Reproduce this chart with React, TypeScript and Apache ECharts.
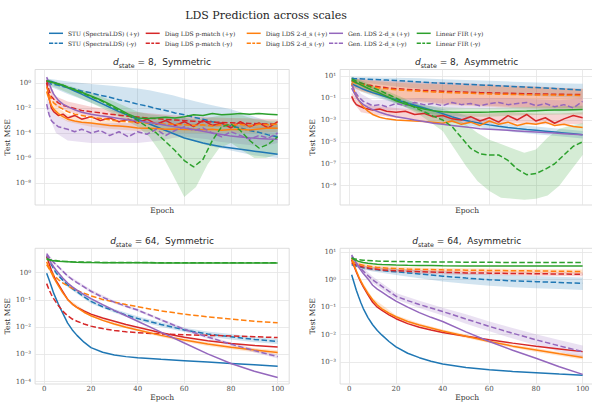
import React, { useEffect, useRef } from "react";
import * as echarts from "echarts";

// ---------- epochs ----------
const E_TOP = [1, 2, 3, 4, 6, 8, 10, 13, 16, 20, 24, 28, 32, 36, 40, 44, 48, 52, 56, 60, 64, 68, 72, 76, 80, 84, 88, 92, 96, 100];
const E_BOT = [1, 2, 3, 4, 5, 6, 8, 10, 12, 14, 17, 20, 25, 30, 35, 40, 50, 60, 70, 80, 90, 100];
const E_BAND = [1, 5, 10, 20, 30, 40, 45, 50, 55, 60, 65, 70, 75, 80, 85, 90, 95, 100];
const E_BAND_S = [1, 5, 10, 20, 30, 40, 50, 60, 70, 80, 90, 100];
const X_TICKS = [0, 20, 40, 60, 80, 100];

// ---------- values: log10(Test MSE) ----------
// d_state = 8, Symmetric
const tlStuP = [0.2, 0.15, 0.1, 0.05, -0.1, -0.25, -0.4, -0.65, -0.9, -1.25, -1.6, -1.95, -2.3, -2.6, -2.9, -3.2, -3.5, -3.8, -4.1, -4.4, -4.6, -4.8, -4.95, -5.1, -5.2, -5.3, -5.4, -5.5, -5.6, -5.7];
const tlStuN = [0.0, -0.05, -0.1, -0.13, -0.2, -0.3, -0.38, -0.5, -0.65, -0.8, -1.0, -1.15, -1.35, -1.5, -1.7, -1.85, -2.05, -2.2, -2.4, -2.55, -2.75, -2.9, -3.1, -3.25, -3.45, -3.6, -3.8, -3.95, -4.15, -4.3];
const tlDiagP = [0.0, -1.2, -2.0, -2.3, -2.6, -2.5, -2.8, -2.6, -2.9, -2.7, -3.0, -2.8, -3.1, -2.9, -3.2, -2.9, -3.3, -3.0, -3.4, -3.1, -3.5, -3.0, -3.4, -3.2, -3.6, -3.1, -3.5, -3.2, -3.6, -3.1];
const tlDiagN = [0.2, -0.6, -1.1, -1.3, -1.6, -1.8, -1.9, -2.05, -2.2, -2.3, -2.4, -2.5, -2.58, -2.66, -2.73, -2.8, -2.86, -2.92, -2.97, -3.02, -3.06, -3.1, -3.13, -3.16, -3.19, -3.22, -3.24, -3.26, -3.28, -3.3];
const tlD2P = [-0.7, -1.3, -1.8, -2.1, -2.45, -2.7, -2.9, -3.05, -3.15, -3.2, -3.3, -3.4, -3.45, -3.5, -3.6, -3.62, -3.65, -3.7, -3.68, -3.73, -3.7, -3.75, -3.7, -3.78, -3.72, -3.7, -3.76, -3.68, -3.6, -3.62];
const tlD2N = [-0.3, -0.9, -1.3, -1.6, -1.9, -2.1, -2.3, -2.5, -2.6, -2.75, -2.85, -2.95, -3.05, -3.1, -3.15, -3.2, -3.25, -3.3, -3.3, -3.35, -3.4, -3.35, -3.45, -3.35, -3.4, -3.3, -3.45, -3.3, -3.35, -3.3];
const tlGenP = [0.45, 0.0, -0.5, -0.9, -1.4, -1.7, -1.9, -2.15, -2.35, -2.5, -2.62, -2.73, -2.84, -2.95, -3.05, -3.15, -3.25, -3.38, -3.5, -3.6, -3.73, -3.87, -4.0, -4.12, -4.25, -4.32, -4.38, -4.43, -4.47, -4.5];
const tlGenN = [-1.7, -2.5, -3.0, -3.2, -3.5, -3.6, -3.7, -3.9, -3.7, -4.0, -3.8, -4.2, -3.9, -4.3, -3.9, -4.1, -3.7, -4.2, -3.8, -3.5, -3.8, -3.6, -4.0, -4.3, -3.9, -4.2, -4.5, -4.2, -4.4, -4.0];
const tlFirP = [0.15, 0.1, 0.05, 0.0, -0.1, -0.2, -0.35, -0.55, -0.75, -1.05, -1.35, -1.7, -2.1, -2.5, -2.8, -2.85, -2.8, -2.75, -2.8, -2.7, -2.55, -2.6, -2.45, -2.55, -2.5, -2.45, -2.5, -2.45, -2.5, -2.55];
const tlFirN = [0.15, 0.1, 0.05, 0.0, -0.1, -0.2, -0.35, -0.55, -0.8, -1.1, -1.4, -1.8, -2.2, -2.6, -3.0, -3.5, -4.0, -4.7, -5.4, -6.2, -6.7, -6.1, -4.6, -3.5, -3.3, -3.8, -4.6, -5.2, -4.9, -4.3];
const tlStuBandLo = [-0.2, -0.5, -0.9, -1.6, -2.3, -3.0, -3.3, -3.7, -4.0, -4.4, -4.7, -5.0, -5.2, -5.4, -5.6, -5.8, -5.9, -6.0];
const tlStuBandHi = [0.35, 0.25, 0.1, -0.1, -0.25, -0.45, -0.6, -0.8, -1.0, -1.25, -1.5, -1.7, -1.9, -2.1, -2.4, -2.7, -3.0, -3.3];
const tlFirBandLo = [-0.1, -0.4, -0.8, -1.6, -2.5, -3.5, -4.3, -5.6, -7.3, -9.1, -8.3, -6.5, -5.2, -4.8, -5.4, -6.0, -6.0, -5.7];
const tlFirBandHi = [0.35, 0.1, -0.2, -0.8, -1.5, -2.3, -2.5, -2.6, -2.7, -2.8, -2.9, -2.8, -2.6, -2.5, -2.6, -2.9, -3.0, -3.0];
const tlGenBandLo = [-2.2, -4.0, -4.6, -4.8, -4.8, -4.8, -4.7, -4.6, -4.4, -4.3, -4.4, -4.5, -4.7, -4.8, -4.9, -5.0, -5.0, -4.8];
const tlGenBandHi = [-1.2, -2.6, -3.0, -3.2, -3.2, -3.2, -3.1, -3.0, -2.9, -2.8, -3.0, -3.1, -3.3, -3.3, -3.4, -3.5, -3.5, -3.4];
const tlDiagBandLo = [-0.1, -1.9, -2.3, -2.7, -3.0, -3.1, -3.3, -3.4, -3.5, -3.55, -3.6, -3.65];
const tlDiagBandHi = [0.4, -1.1, -1.5, -1.9, -2.2, -2.35, -2.5, -2.65, -2.75, -2.8, -2.85, -2.9];
const tlD2BandLo = [-1.0, -2.6, -3.1, -3.5, -3.7, -3.85, -3.95, -4.0, -4.0, -4.0, -4.0, -3.9];
const tlD2BandHi = [-0.3, -1.9, -2.5, -2.9, -3.05, -3.25, -3.3, -3.3, -3.3, -3.3, -3.3, -3.2];

// d_state = 8, Asymmetric
const trStuP = [0.3, 0.2, 0.1, 0.0, -0.2, -0.35, -0.5, -0.7, -0.9, -1.15, -1.4, -1.65, -1.9, -2.15, -2.42, -2.7, -2.95, -3.15, -3.3, -3.45, -3.57, -3.68, -3.78, -3.87, -3.95, -4.03, -4.11, -4.19, -4.27, -4.35];
const trStuN = [0.8, 0.78, 0.77, 0.76, 0.74, 0.72, 0.7, 0.67, 0.64, 0.6, 0.55, 0.5, 0.45, 0.4, 0.36, 0.32, 0.28, 0.24, 0.2, 0.16, 0.12, 0.08, 0.04, 0.0, -0.04, -0.08, -0.13, -0.18, -0.23, -0.28];
const trDiagP = [-0.85, -1.3, -1.6, -1.7, -1.9, -2.0, -2.1, -2.0, -2.2, -2.3, -2.2, -2.5, -2.4, -2.7, -2.6, -2.9, -3.0, -2.7, -3.1, -2.8, -3.2, -2.6, -3.0, -2.5, -3.1, -2.8, -3.3, -2.9, -2.6, -2.8];
const trDiagN = [0.55, 0.5, 0.45, 0.4, 0.3, 0.2, 0.12, 0.02, -0.06, -0.14, -0.2, -0.25, -0.3, -0.34, -0.38, -0.41, -0.44, -0.47, -0.5, -0.52, -0.54, -0.56, -0.58, -0.6, -0.62, -0.63, -0.65, -0.66, -0.67, -0.68];
const trD2P = [0.35, -0.3, -0.8, -1.2, -1.8, -2.2, -2.5, -2.75, -2.9, -3.0, -3.05, -3.1, -3.15, -3.2, -3.3, -3.1, -3.4, -3.2, -3.5, -3.1, -3.4, -3.2, -3.5, -3.3, -3.4, -3.2, -3.5, -3.4, -3.6, -3.7];
const trD2N = [0.5, 0.42, 0.36, 0.3, 0.2, 0.1, 0.02, -0.08, -0.16, -0.24, -0.3, -0.35, -0.4, -0.44, -0.48, -0.51, -0.54, -0.57, -0.6, -0.62, -0.64, -0.66, -0.68, -0.7, -0.71, -0.72, -0.73, -0.74, -0.75, -0.76];
const trGenP = [-0.1, -0.5, -0.9, -1.2, -1.6, -1.85, -2.05, -2.3, -2.5, -2.7, -2.85, -3.0, -3.15, -3.3, -3.4, -3.5, -3.6, -3.7, -3.8, -3.85, -3.9, -3.95, -4.0, -4.05, -4.1, -4.15, -4.2, -4.25, -4.3, -4.35];
const trGenN = [0.2, -0.2, -0.6, -0.9, -1.3, -1.5, -1.7, -1.6, -1.8, -1.5, -1.7, -1.4, -1.6, -1.5, -1.7, -1.4, -1.6, -1.5, -1.7, -1.5, -1.4, -1.6, -1.5, -1.4, -1.7, -1.5, -1.8, -1.6, -1.9, -1.3];
const trFirP = [0.63, 0.5, 0.4, 0.3, 0.1, -0.1, -0.3, -0.55, -0.85, -1.25, -1.55, -1.8, -2.0, -2.15, -2.25, -2.3, -2.3, -2.3, -2.3, -2.28, -2.25, -2.22, -2.2, -2.18, -2.15, -2.12, -2.1, -2.08, -2.06, -2.05];
const trFirN = [0.75, 0.65, 0.55, 0.47, 0.3, 0.12, -0.05, -0.3, -0.6, -1.0, -1.4, -1.85, -2.25, -2.65, -3.0, -3.6, -4.6, -5.6, -6.1, -6.2, -6.2, -6.7, -7.5, -8.0, -7.9, -7.5, -7.0, -6.2, -5.4, -5.0];
const trFirBandLo = [0.5, 0.1, -0.4, -1.4, -2.5, -4.0, -5.6, -7.2, -8.6, -9.5, -10.1, -10.2, -10.3, -10.2, -9.9, -9.0, -7.6, -6.2];
const trFirBandHi = [0.95, 0.6, 0.2, -0.7, -1.6, -2.4, -2.8, -3.4, -4.2, -4.8, -5.2, -5.6, -6.0, -5.7, -4.6, -3.8, -3.5, -3.3];
const trStuNBandLo = [0.6, 0.45, 0.3, 0.05, -0.15, -0.3, -0.45, -0.6, -0.7, -0.8, -0.9, -1.0];
const trStuNBandHi = [0.95, 0.93, 0.9, 0.85, 0.8, 0.72, 0.65, 0.58, 0.5, 0.42, 0.36, 0.3];
const trDiagNBandLo = [0.1, -0.3, -0.6, -1.0, -1.3, -1.5, -1.6, -1.7, -1.8, -1.85, -1.9, -1.9];
const trDiagNBandHi = [0.85, 0.75, 0.65, 0.55, 0.5, 0.45, 0.35, 0.25, 0.15, 0.05, -0.05, -0.15];
const trD2NBandLo = [0.0, -0.4, -0.7, -1.1, -1.4, -1.6, -1.7, -1.8, -1.9, -1.95, -2.0, -2.0];
const trD2NBandHi = [0.8, 0.7, 0.55, 0.4, 0.3, 0.25, 0.15, 0.1, 0.05, 0.0, -0.1, -0.2];
const trGenNBandLo = [-0.2, -1.6, -2.1, -2.1, -2.0, -2.1, -2.0, -2.0, -2.0, -2.1, -2.2, -2.1];
const trGenNBandHi = [0.6, -0.6, -1.2, -1.1, -1.0, -1.1, -1.0, -1.0, -1.0, -1.1, -1.2, -1.0];
const trFirPBandLo = [0.4, -0.1, -0.6, -1.5, -2.3, -2.6, -2.7, -2.7, -2.6, -2.55, -2.5, -2.5];
const trFirPBandHi = [0.85, 0.5, 0.1, -1.0, -1.6, -1.85, -1.9, -1.9, -1.85, -1.8, -1.75, -1.7];
const trStuPBandLo = [0.1, -0.4, -0.8, -1.5, -2.2, -2.9, -3.5, -3.8, -4.1, -4.3, -4.5, -4.7];
const trStuPBandHi = [0.5, 0.1, -0.25, -0.9, -1.5, -2.0, -2.6, -3.1, -3.4, -3.6, -3.8, -4.0];
const trDiagPBandLo = [-1.2, -2.3, -2.5, -2.8, -3.0, -3.2, -3.3, -3.3, -3.3, -3.4, -3.4, -3.4];
const trDiagPBandHi = [-0.5, -1.5, -1.7, -1.9, -2.1, -2.3, -2.4, -2.4, -2.3, -2.4, -2.4, -2.3];

// d_state = 64, Symmetric
const blStuP = [-0.02, -0.25, -0.5, -0.75, -0.95, -1.15, -1.5, -1.85, -2.1, -2.3, -2.55, -2.75, -2.92, -3.02, -3.08, -3.12, -3.18, -3.23, -3.28, -3.33, -3.38, -3.43];
const blStuN = [0.6, 0.45, 0.3, 0.15, 0.0, -0.1, -0.28, -0.45, -0.58, -0.7, -0.88, -1.05, -1.25, -1.4, -1.55, -1.68, -1.9, -2.1, -2.25, -2.35, -2.45, -2.52];
const blDiagP = [0.6, 0.35, 0.1, -0.1, -0.28, -0.42, -0.7, -0.98, -1.15, -1.27, -1.4, -1.52, -1.66, -1.78, -1.9, -2.0, -2.2, -2.37, -2.5, -2.6, -2.67, -2.73];
const blDiagN = [-0.4, -0.62, -0.8, -0.95, -1.08, -1.2, -1.42, -1.58, -1.7, -1.78, -1.88, -1.96, -2.05, -2.12, -2.17, -2.2, -2.25, -2.28, -2.3, -2.32, -2.35, -2.38];
const blD2P = [0.4, 0.2, 0.0, -0.18, -0.33, -0.47, -0.75, -0.98, -1.15, -1.28, -1.45, -1.58, -1.75, -1.88, -2.0, -2.1, -2.3, -2.47, -2.62, -2.74, -2.84, -2.93];
const blD2N = [0.3, 0.15, 0.02, -0.08, -0.17, -0.25, -0.38, -0.48, -0.57, -0.65, -0.75, -0.85, -0.98, -1.08, -1.17, -1.25, -1.4, -1.52, -1.62, -1.7, -1.78, -1.84];
const blGenP = [0.65, 0.5, 0.35, 0.22, 0.1, 0.0, -0.2, -0.38, -0.52, -0.64, -0.8, -0.95, -1.17, -1.38, -1.58, -1.78, -2.18, -2.58, -2.98, -3.33, -3.62, -3.85];
const blGenN = [0.7, 0.58, 0.47, 0.38, 0.3, 0.22, 0.05, -0.12, -0.25, -0.36, -0.52, -0.68, -0.9, -1.08, -1.23, -1.37, -1.73, -2.08, -2.36, -2.62, -2.86, -3.08];
const blFirP = [0.5, 0.47, 0.45, 0.44, 0.43, 0.42, 0.41, 0.4, 0.39, 0.385, 0.38, 0.375, 0.37, 0.37, 0.365, 0.365, 0.36, 0.36, 0.36, 0.36, 0.36, 0.36];
const blFirN = [0.52, 0.49, 0.47, 0.455, 0.445, 0.435, 0.42, 0.41, 0.4, 0.395, 0.39, 0.385, 0.38, 0.378, 0.375, 0.373, 0.37, 0.37, 0.368, 0.368, 0.367, 0.367];
const blStuNBandLo = [0.55, -0.05, -0.52, -1.13, -1.47, -1.76, -1.98, -2.18, -2.34, -2.45, -2.55, -2.62];
const blStuNBandHi = [0.65, 0.05, -0.38, -0.97, -1.33, -1.6, -1.82, -2.02, -2.16, -2.25, -2.35, -2.42];
const blD2PBandLo = [0.37, -0.37, -1.02, -1.62, -1.93, -2.15, -2.36, -2.53, -2.69, -2.81, -2.92, -3.01];
const blD2PBandHi = [0.43, -0.29, -0.94, -1.54, -1.83, -2.05, -2.24, -2.41, -2.55, -2.67, -2.76, -2.85];
const blGenNBandLo = [0.65, 0.25, -0.17, -0.74, -1.13, -1.42, -1.78, -2.14, -2.42, -2.68, -2.93, -3.15];
const blGenNBandHi = [0.75, 0.35, -0.07, -0.62, -1.03, -1.32, -1.68, -2.02, -2.3, -2.56, -2.79, -3.01];

// d_state = 64, Asymmetric
const brStuP = [0.18, -0.1, -0.38, -0.62, -0.85, -1.05, -1.38, -1.64, -1.85, -2.02, -2.25, -2.45, -2.68, -2.84, -2.97, -3.07, -3.2, -3.28, -3.34, -3.39, -3.44, -3.48];
const brStuN = [0.55, 0.52, 0.5, 0.48, 0.46, 0.44, 0.41, 0.38, 0.36, 0.34, 0.31, 0.29, 0.25, 0.21, 0.17, 0.13, 0.06, 0.0, -0.04, -0.07, -0.1, -0.13];
const brDiagP = [0.73, 0.5, 0.28, 0.08, -0.1, -0.26, -0.55, -0.82, -1.0, -1.12, -1.28, -1.42, -1.6, -1.73, -1.83, -1.92, -2.06, -2.19, -2.31, -2.42, -2.52, -2.62];
const brDiagN = [0.62, 0.57, 0.53, 0.5, 0.48, 0.46, 0.43, 0.4, 0.38, 0.36, 0.34, 0.33, 0.31, 0.29, 0.28, 0.27, 0.25, 0.24, 0.23, 0.22, 0.21, 0.2];
const brD2P = [0.79, 0.55, 0.32, 0.12, -0.06, -0.22, -0.5, -0.73, -0.92, -1.06, -1.22, -1.35, -1.52, -1.65, -1.76, -1.87, -2.06, -2.25, -2.42, -2.56, -2.7, -2.83];
const brD2N = [0.67, 0.63, 0.6, 0.57, 0.55, 0.53, 0.5, 0.47, 0.45, 0.44, 0.42, 0.41, 0.39, 0.38, 0.37, 0.36, 0.35, 0.34, 0.33, 0.32, 0.31, 0.3];
const brGenP = [0.91, 0.75, 0.6, 0.46, 0.34, 0.23, 0.03, -0.2, -0.34, -0.45, -0.62, -0.78, -1.0, -1.2, -1.37, -1.52, -1.9, -2.25, -2.57, -2.86, -3.17, -3.45];
const brGenN = [0.85, 0.72, 0.6, 0.5, 0.4, 0.32, 0.15, 0.0, -0.12, -0.24, -0.42, -0.6, -0.76, -0.9, -1.03, -1.16, -1.43, -1.7, -1.95, -2.19, -2.41, -2.62];
const brFirP = [0.78, 0.74, 0.7, 0.67, 0.65, 0.63, 0.6, 0.58, 0.565, 0.555, 0.545, 0.535, 0.525, 0.52, 0.515, 0.51, 0.505, 0.5, 0.5, 0.5, 0.5, 0.5];
const brFirN = [0.8, 0.77, 0.75, 0.73, 0.72, 0.71, 0.7, 0.69, 0.68, 0.675, 0.67, 0.665, 0.66, 0.655, 0.65, 0.645, 0.64, 0.635, 0.63, 0.63, 0.63, 0.63];
const brStuNBandLo = [0.5, 0.4, 0.3, 0.17, 0.05, -0.06, -0.15, -0.22, -0.27, -0.31, -0.34, -0.37];
const brStuNBandHi = [0.6, 0.52, 0.46, 0.4, 0.35, 0.3, 0.25, 0.2, 0.17, 0.14, 0.11, 0.08];
const brGenNBandLo = [0.8, 0.28, -0.12, -0.72, -1.03, -1.3, -1.6, -1.88, -2.14, -2.39, -2.62, -2.84];
const brGenNBandHi = [0.9, 0.52, 0.12, -0.48, -0.77, -1.02, -1.26, -1.52, -1.76, -1.99, -2.2, -2.4];
const brD2NBandLo = [0.6, 0.48, 0.4, 0.34, 0.31, 0.29, 0.28, 0.27, 0.26, 0.25, 0.24, 0.23];
const brD2NBandHi = [0.74, 0.62, 0.54, 0.48, 0.45, 0.43, 0.42, 0.41, 0.4, 0.39, 0.38, 0.37];
const brDiagNBandLo = [0.55, 0.41, 0.33, 0.26, 0.22, 0.2, 0.18, 0.17, 0.16, 0.15, 0.14, 0.13];
const brDiagNBandHi = [0.69, 0.55, 0.47, 0.4, 0.36, 0.34, 0.32, 0.31, 0.3, 0.29, 0.28, 0.27];
const brD2PBandLo = [0.75, -0.12, -0.79, -1.41, -1.71, -1.93, -2.12, -2.31, -2.48, -2.63, -2.77, -2.91];
const brD2PBandHi = [0.83, 0.0, -0.67, -1.29, -1.59, -1.81, -2.0, -2.19, -2.36, -2.49, -2.63, -2.75];

// ---------- styling / structure ----------
const SERIF = "'DejaVu Serif', serif";
const SANS = "'DejaVu Sans', sans-serif";

const METHODS = [
  { key: "stu", label: "STU (SpectraLDS)", color: "#1f77b4", rgb: "31,119,180" },
  { key: "diag", label: "Diag LDS p-match", color: "#d62728", rgb: "214,39,40" },
  { key: "d2", label: "Diag LDS 2-d_s", color: "#ff7f0e", rgb: "255,127,14" },
  { key: "gen", label: "Gen. LDS 2-d_s", color: "#9467bd", rgb: "148,103,189" },
  { key: "fir", label: "Linear FIR", color: "#2ca02c", rgb: "44,160,44" },
];

type Band = [string, number[], number[], number[]];
interface Panel {
  state: number;
  kind: string;
  epochs: number[];
  yMin: number;
  yMax: number;
  yTicks: number[];
  bottom: boolean;
  lines: Record<string, [number[], number[]]>;
  bands: Band[];
}

const PANELS: Panel[] = [
  {
    state: 8, kind: "Symmetric", epochs: E_TOP, yMin: -9.74, yMax: 1.06, yTicks: [-8, -6, -4, -2, 0], bottom: false,
    lines: { stu: [tlStuP, tlStuN], diag: [tlDiagP, tlDiagN], d2: [tlD2P, tlD2N], gen: [tlGenP, tlGenN], fir: [tlFirP, tlFirN] },
    bands: [
      ["stu", E_BAND, tlStuBandLo, tlStuBandHi],
      ["diag", E_BAND_S, tlDiagBandLo, tlDiagBandHi],
      ["d2", E_BAND_S, tlD2BandLo, tlD2BandHi],
      ["gen", E_BAND, tlGenBandLo, tlGenBandHi],
      ["fir", E_BAND, tlFirBandLo, tlFirBandHi],
    ],
  },
  {
    state: 8, kind: "Asymmetric", epochs: E_TOP, yMin: -10.77, yMax: 1.61, yTicks: [-9, -7, -5, -3, -1, 1], bottom: false,
    lines: { stu: [trStuP, trStuN], diag: [trDiagP, trDiagN], d2: [trD2P, trD2N], gen: [trGenP, trGenN], fir: [trFirP, trFirN] },
    bands: [
      ["stu", E_BAND_S, trStuNBandLo, trStuNBandHi],
      ["stu", E_BAND_S, trStuPBandLo, trStuPBandHi],
      ["diag", E_BAND_S, trDiagNBandLo, trDiagNBandHi],
      ["diag", E_BAND_S, trDiagPBandLo, trDiagPBandHi],
      ["d2", E_BAND_S, trD2NBandLo, trD2NBandHi],
      ["gen", E_BAND_S, trGenNBandLo, trGenNBandHi],
      ["fir", E_BAND_S, trFirPBandLo, trFirPBandHi],
      ["fir", E_BAND, trFirBandLo, trFirBandHi],
    ],
  },
  {
    state: 64, kind: "Symmetric", epochs: E_BOT, yMin: -4.085, yMax: 0.897, yTicks: [-4, -3, -2, -1, 0], bottom: true,
    lines: { stu: [blStuP, blStuN], diag: [blDiagP, blDiagN], d2: [blD2P, blD2N], gen: [blGenP, blGenN], fir: [blFirP, blFirN] },
    bands: [
      ["stu", E_BAND_S, blStuNBandLo, blStuNBandHi],
      ["d2", E_BAND_S, blD2PBandLo, blD2PBandHi],
      ["gen", E_BAND_S, blGenNBandLo, blGenNBandHi],
    ],
  },
  {
    state: 64, kind: "Asymmetric", epochs: E_BOT, yMin: -3.8, yMax: 1.146, yTicks: [-3, -2, -1, 0, 1], bottom: true,
    lines: { stu: [brStuP, brStuN], diag: [brDiagP, brDiagN], d2: [brD2P, brD2N], gen: [brGenP, brGenN], fir: [brFirP, brFirN] },
    bands: [
      ["stu", E_BAND_S, brStuNBandLo, brStuNBandHi],
      ["diag", E_BAND_S, brDiagNBandLo, brDiagNBandHi],
      ["d2", E_BAND_S, brD2NBandLo, brD2NBandHi],
      ["d2", E_BAND_S, brD2PBandLo, brD2PBandHi],
      ["gen", E_BAND_S, brGenNBandLo, brGenNBandHi],
    ],
  },
];

const LAYOUT = [
  { left: 35.1, top: 69.5, width: 254.1, height: 135.5, tx: 162, ty: 62.3 },
  { left: 340.1, top: 69.5, width: 254.1, height: 135.5, tx: 466.7, ty: 62.3 },
  { left: 35.1, top: 248.3, width: 254.1, height: 135.7, tx: 162, ty: 241 },
  { left: 340.1, top: 248.3, width: 254.1, height: 135.7, tx: 466.7, ty: 241 },
];

const LEGEND_X = [49, 145.7, 246.7, 329, 416.7];
const LEGEND_Y = [29.3, 39.3];
const SOLID_ICON = "path://M0 0H14V1.5H0Z";
const DASH_ICON = "path://M0 0H4.2V1.5H0ZM5.6 0H8.4V1.5H5.6ZM9.8 0H14V1.5H9.8Z";
const DASH: number[] = [5.5, 2.5];

const SUP: Record<string, string> = {
  "-": "\u207b", "0": "\u2070", "1": "\u00b9", "2": "\u00b2", "3": "\u00b3", "4": "\u2074",
  "5": "\u2075", "6": "\u2076", "7": "\u2077", "8": "\u2078", "9": "\u2079",
};
const pow10Label = (v: number) =>
  "10" + String(Math.round(v)).split("").map((c) => SUP[c] || c).join("");

const seriesName = (label: string, pos: boolean) => `${label} (${pos ? "+y" : "-y"})`;

function buildOption() {
  const grid: any[] = [];
  const xAxis: any[] = [];
  const yAxis: any[] = [];
  const series: any[] = [];
  const graphic: any[] = [];

  PANELS.forEach((p, i) => {
    const L = LAYOUT[i];
    grid.push({
      left: L.left, top: L.top, width: L.width, height: L.height,
      show: true, borderColor: "#d4d4d4", borderWidth: 0.8, backgroundColor: "#ffffff",
      containLabel: false, outerBoundsMode: "none",
    });
    xAxis.push({
      type: "value", gridIndex: i, min: -3.95, max: 104.95,
      axisLine: { show: false },
      axisTick: { show: false, customValues: X_TICKS },
      axisLabel: { show: p.bottom, customValues: X_TICKS, fontFamily: SERIF, fontSize: 7, color: "#4d4d4d", margin: 1.8 },
      splitLine: { show: true, lineStyle: { color: "#e5e5e5", width: 0.8 } },
      name: "Epoch", nameLocation: "middle", nameGap: p.bottom ? 9.4 : 1.6,
      nameTextStyle: { fontFamily: SERIF, fontSize: 7.5, color: "#333333" },
    });
    yAxis.push({
      type: "value", gridIndex: i, min: p.yMin, max: p.yMax,
      axisLine: { show: false },
      axisTick: { show: false, customValues: p.yTicks },
      axisLabel: { customValues: p.yTicks, formatter: pow10Label, fontFamily: SERIF, fontSize: 7, color: "#4d4d4d", margin: 4 },
      splitLine: { show: true, lineStyle: { color: "#e5e5e5", width: 0.8 } },
      name: "Test MSE", nameLocation: "middle", nameGap: 19.3,
      nameTextStyle: { fontFamily: SERIF, fontSize: 7.5, color: "#333333" },
    });

    // confidence bands
    p.bands.forEach(([key, ep, lo, hi]) => {
      const m = METHODS.find((mm) => mm.key === key)!;
      series.push({
        type: "custom", xAxisIndex: i, yAxisIndex: i, silent: true, z: 2, clip: true,
        data: ep.map((e, j) => [e, lo[j], hi[j]]),
        encode: { x: 0, y: [1, 2] },
        renderItem: (params: any, api: any) => {
          if (params.dataIndexInside !== 0) return null;
          const n = params.dataInsideLength;
          const top: number[][] = [];
          const bot: number[][] = [];
          for (let j = 0; j < n; j++) {
            const x = api.value(0, j);
            top.push(api.coord([x, api.value(2, j)]));
            bot.push(api.coord([x, api.value(1, j)]));
          }
          return {
            type: "polygon",
            shape: { points: top.concat(bot.reverse()) },
            style: { fill: `rgba(${m.rgb},0.2)`, stroke: "none" },
          };
        },
      });
    });

    // lines
    METHODS.forEach((m) => {
      const [pv, nv] = p.lines[m.key];
      [true, false].forEach((pos) => {
        const vals = pos ? pv : nv;
        series.push({
          type: "line", name: seriesName(m.label, pos), xAxisIndex: i, yAxisIndex: i,
          data: p.epochs.map((e, j) => [e, vals[j]]),
          symbol: "none", showSymbol: false, silent: true, z: 3,
          lineStyle: { color: m.color, width: 1.5, type: pos ? "solid" : DASH },
          itemStyle: { color: m.color },
        });
      });
    });

    // subplot title
    graphic.push({
      type: "text", x: L.tx, y: L.ty, silent: true,
      style: {
        text: `{d|d}{s|state}{n| = ${p.state},  ${p.kind}}`,
        align: "center", verticalAlign: "middle",
        rich: {
          d: { fontFamily: SANS, fontStyle: "italic", fontSize: 9, fill: "#262626", lineHeight: 12, verticalAlign: "middle" },
          s: { fontFamily: SANS, fontSize: 6.3, fill: "#262626", verticalAlign: "bottom" },
          n: { fontFamily: SANS, fontSize: 9, fill: "#262626", lineHeight: 12, verticalAlign: "middle" },
        },
      },
    });
  });

  graphic.push({
    type: "text", x: 266, y: 15, silent: true,
    style: {
      text: "LDS Prediction across scales", align: "center", verticalAlign: "middle",
      fontFamily: SERIF, fontSize: 11, fill: "#262626",
    },
  });

  const legend: any[] = [];
  METHODS.forEach((m, c) => {
    [true, false].forEach((pos, r) => {
      legend.push({
        data: [seriesName(m.label, pos)],
        left: LEGEND_X[c], top: LEGEND_Y[r], padding: 0,
        itemWidth: 14, itemHeight: 1.5, selectedMode: false,
        icon: pos ? SOLID_ICON : DASH_ICON,
        itemStyle: { color: m.color, borderWidth: 0 },
        textStyle: { fontFamily: SERIF, fontSize: 6, color: "#333333", lineHeight: 8 },
      });
    });
  });

  return {
    animation: false,
    backgroundColor: "#ffffff",
    textStyle: { fontFamily: SERIF },
    grid, xAxis, yAxis, series, legend, graphic,
  };
}

export default function App() {
  const ref = useRef<HTMLDivElement>(null);
  useEffect(() => {
    if (!ref.current) return;
    const chart = echarts.init(ref.current, null, { renderer: "svg" });
    chart.setOption(buildOption() as any);
    return () => chart.dispose();
  }, []);
  return (
    <div
      ref={ref}
      style={{ position: "fixed", left: 0, top: 0, width: 592, height: 402, background: "#ffffff" }}
    />
  );
}
